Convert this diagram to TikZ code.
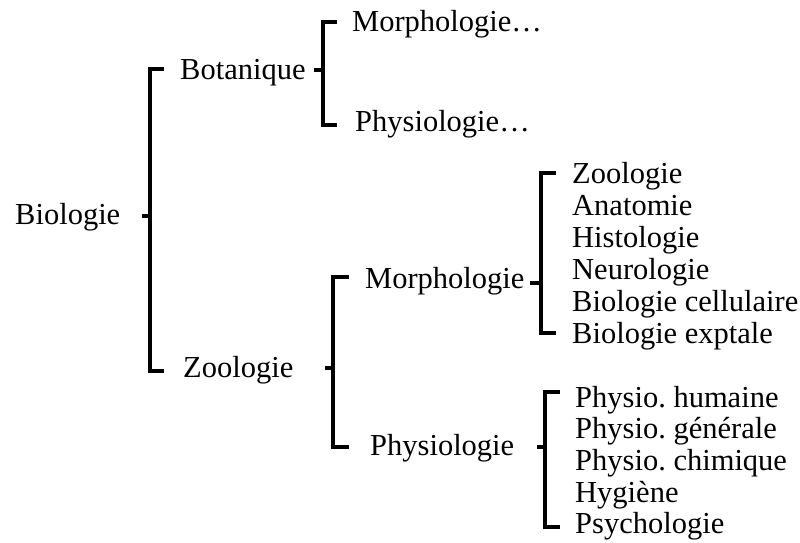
\documentclass[tikz,border=0pt]{standalone}
\usepackage{fontspec}
\setmainfont{Liberation Serif}
\frenchspacing
\begin{document}
\begin{tikzpicture}[x=1pt,y=-1pt,
  txt/.style={anchor=base west, inner sep=0pt, font=\fontsize{30.5}{36}\selectfont},
  brk/.style={line width=3.2pt, line join=miter, line cap=butt}]
\useasboundingbox (0,0) rectangle (800,543);
% level 0/1
\node[txt] (bio) at (15,224) {Biologie};
\node[txt] (bot) at (180,79) {Botanique};
\node[txt] (zoo) at (183,377) {Zoologie};
% Botanique children
\node[txt] (bmor) at (352,32) {Morphologie…};
\node[txt] (bphy) at (355,131) {Physiologie…};
% Zoologie children
\node[txt] (zmor) at (365,288) {Morphologie};
\node[txt] (zphy) at (370,455) {Physiologie};
% Morphologie items
\node[txt] (m1) at (572,183) {Zoologie};
\node[txt] (m2) at (572,215) {Anatomie};
\node[txt] (m3) at (572,247) {Histologie};
\node[txt] (m4) at (572,279) {Neurologie};
\node[txt] (m5) at (572,311) {Biologie cellulaire};
\node[txt] (m6) at (572,343) {Biologie exptale};
% Physiologie items
\node[txt] (p1) at (575,407) {Physio. humaine};
\node[txt] (p2) at (575,438) {Physio. générale};
\node[txt] (p3) at (575,470) {Physio. chimique};
\node[txt] (p4) at (575,502) {Hygiène};
\node[txt] (p5) at (575,533) {Psychologie};
% bracket coordinates
\coordinate (a0) at (142,216); \coordinate (a1) at (150,216);
\coordinate (at) at (164,69); \coordinate (atv) at (150,69);
\coordinate (abv) at (150,371); \coordinate (ab) at (164,371);
\coordinate (b0) at (314,70); \coordinate (b1) at (323,70);
\coordinate (bt) at (337,22); \coordinate (btv) at (323,22);
\coordinate (bbv) at (323,125); \coordinate (bb) at (337,125);
\coordinate (c0) at (325,368); \coordinate (c1) at (333,368);
\coordinate (ct) at (349,277); \coordinate (ctv) at (333,277);
\coordinate (cbv) at (333,447); \coordinate (cb) at (349,447);
\coordinate (d0) at (530,283); \coordinate (d1) at (541,283);
\coordinate (dt) at (556,173); \coordinate (dtv) at (541,173);
\coordinate (dbv) at (541,333); \coordinate (db) at (556,333);
\coordinate (e0) at (537,447); \coordinate (e1) at (545,447);
\coordinate (et) at (560,392); \coordinate (etv) at (545,392);
\coordinate (ebv) at (545,527); \coordinate (eb) at (560,527);
% brackets
\draw[brk] (a0) -- (a1); \draw[brk] (at) -- (atv) -- (abv) -- (ab);
\draw[brk] (b0) -- (b1); \draw[brk] (bt) -- (btv) -- (bbv) -- (bb);
\draw[brk] (c0) -- (c1); \draw[brk] (ct) -- (ctv) -- (cbv) -- (cb);
\draw[brk] (d0) -- (d1); \draw[brk] (dt) -- (dtv) -- (dbv) -- (db);
\draw[brk] (e0) -- (e1); \draw[brk] (et) -- (etv) -- (ebv) -- (eb);
\end{tikzpicture}
\end{document}
